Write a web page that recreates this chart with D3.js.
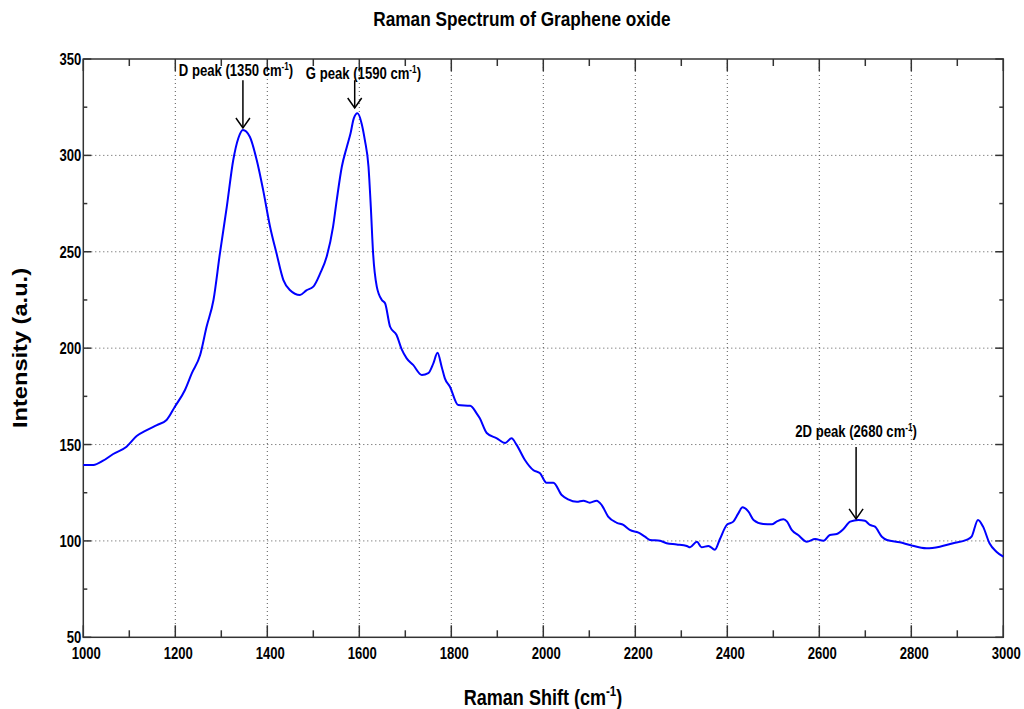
<!DOCTYPE html>
<html>
<head>
<meta charset="utf-8">
<script src="https://cdn.jsdelivr.net/npm/d3@7"></script>
<style>
  body { margin: 0; background: #fff; }
  text { font-family: "Liberation Sans", Arial, sans-serif; font-weight: bold; }
</style>
</head>
<body>
<svg id="chart"></svg>
<script>
// spectrum
var ramanShift = [1000, 1022, 1043, 1065, 1094, 1116, 1138, 1160, 1181, 1199, 1221, 1236, 1254, 1268, 1283, 1297, 1312, 1326, 1337, 1347,
    1362, 1377, 1391, 1406, 1420, 1435, 1449, 1471, 1485, 1500, 1515, 1529, 1543, 1551, 1562, 1573, 1581, 1588, 1596, 1605,
    1612, 1620, 1625, 1630, 1638, 1649, 1656, 1667, 1681, 1692, 1703, 1717, 1736, 1750, 1761, 1770, 1779, 1786, 1797, 1815,
    1841, 1855, 1862, 1877, 1899, 1917, 1931, 1942, 1960, 1978, 1993, 2007, 2022, 2040, 2054, 2073, 2087, 2101, 2116, 2127,
    2141, 2160, 2174, 2188, 2207, 2221, 2232, 2254, 2268, 2290, 2312, 2319, 2334, 2344, 2359, 2373, 2384, 2399, 2413, 2424,
    2433, 2446, 2457, 2478, 2497, 2507, 2522, 2530, 2540, 2554, 2573, 2591, 2609, 2623, 2638, 2652, 2667, 2685, 2699, 2710,
    2721, 2736, 2747, 2775, 2797, 2833, 2862, 2891, 2920, 2931, 2945, 2956, 2970, 2985, 3000]
var intensity = [139.4, 139.4, 141.6, 145.1, 148.9, 154.4, 157.5, 160.1, 162.7, 169.6, 178.3, 187, 196.4, 211.1, 225, 249.2, 273.4, 297.6, 308.9, 313.2,
    309.7, 297.6, 282, 263, 249.2, 235.3, 230.2, 227.6, 230, 231.9, 238.8, 247.4, 263, 276.9, 294.1, 304.5, 311.5, 319.2, 321.8, 316.6,
    308, 294.1, 273.4, 249.2, 231.9, 225, 223.3, 211.1, 206.8, 199.5, 194.7, 191.3, 186.1, 187, 192.1, 197.6, 190.4, 184.3, 180, 170.5,
    170.1, 166.2, 163.6, 156, 153.2, 150.8, 153.2, 149.8, 142, 136.8, 135.1, 130.2, 130.2, 123.8, 121.6, 120.3, 120.9, 119.8, 120.9, 118.6,
    112.6, 109.4, 108.3, 105.7, 104.3, 102.2, 100.5, 100.1, 98.8, 98.2, 97.4, 96.7, 99.6, 96.7, 97.4, 95.4, 101, 108.3, 110, 114.3,
    117.4, 115.2, 110.9, 108.8, 108.6, 110, 111.2, 110, 105.7, 103.1, 99.6, 101, 100.1, 103.1, 103.6, 106, 110, 110.9, 110.5, 108.3,
    107.4, 102.2, 100.5, 99.3, 97.9, 96.2, 97, 98.8, 100.5, 102.2, 110.9, 107.4, 98.8, 94.4, 91.8]

var xTicks = [1000, 1200, 1400, 1600, 1800, 2000, 2200, 2400, 2600, 2800, 3000]
var yTicks = [50, 100, 150, 200, 250, 300, 350]

// peak annotations
var peakNames = ["D peak (1350 cm", "G peak (1590 cm", "2D peak (2680 cm"]
var peakShift = [1347, 1590, 2680]      // arrow position
var labelShift = [1332, 1609, 2680]     // label centre
var labelAt = [341.2, 339.6, 153.9]     // label baseline (intensity)
var arrowFrom = [339, 339, 148.7]
var arrowTo = [314.2, 324.6, 111.4]

var width = 1024, height = 709
var plot = {left: 83.3, right: 1003.3, top: 59, bottom: 637.3}

var svg = d3.select("#chart").attr("width", width).attr("height", height)

var x = d3.scaleLinear().domain([1000, 3000]).range([plot.left, plot.right])
var y = d3.scaleLinear().domain([50, 350]).range([plot.bottom, plot.top])

// squeezed text to look like arial narrow
function narrowText(px, py, size, anchor, sq) {
    return svg.append("text")
        .attr("transform", `translate(${px},${py}) scale(${sq || 0.82},1)`)
        .attr("font-size", size)
        .attr("text-anchor", anchor)
}

// grid
var grid = svg.append("g").attr("stroke", "#555").attr("stroke-width", 1).attr("stroke-dasharray", "1,3")
grid.selectAll(".gx").data(xTicks.slice(1, -1)).enter().append("line")
    .attr("x1", d => x(d)).attr("x2", d => x(d)).attr("y1", plot.top).attr("y2", plot.bottom)
grid.selectAll(".gy").data(yTicks.slice(1, -1)).enter().append("line")
    .attr("y1", d => y(d)).attr("y2", d => y(d)).attr("x1", plot.left).attr("x2", plot.right)

// axes, inward ticks on all four sides
var minorX = d3.range(1100, 3000, 200)
var minorY = d3.range(75, 350, 50)
var ax = svg.append("g").attr("stroke", "#333").attr("stroke-width", 1.5)
function tickX(vals, len) {
    vals.forEach(v => {
        ax.append("line").attr("x1", x(v)).attr("x2", x(v)).attr("y1", plot.bottom).attr("y2", plot.bottom - len)
        ax.append("line").attr("x1", x(v)).attr("x2", x(v)).attr("y1", plot.top).attr("y2", plot.top + len)
    })
}
function tickY(vals, len) {
    vals.forEach(v => {
        ax.append("line").attr("y1", y(v)).attr("y2", y(v)).attr("x1", plot.left).attr("x2", plot.left + len)
        ax.append("line").attr("y1", y(v)).attr("y2", y(v)).attr("x1", plot.right).attr("x2", plot.right - len)
    })
}
tickX(xTicks, 12)
tickX(minorX, 7)
tickY(yTicks, 8)
tickY(minorY, 4)
ax.append("rect").attr("x", plot.left).attr("y", plot.top)
  .attr("width", plot.right - plot.left).attr("height", plot.bottom - plot.top)
  .attr("fill", "none")

// tick labels
xTicks.forEach(d => narrowText(x(d) + 3, plot.bottom + 22, 17, "middle", 0.77).text(d))
yTicks.forEach(d => narrowText(plot.left - 2, y(d) + 6, 17, "end", 0.77).text(d))

// spectrum
var points = ramanShift.map((v, i) => [v, intensity[i]])
var line = d3.line().x(d => x(d[0])).y(d => y(d[1])).curve(d3.curveMonotoneX)
svg.append("path").datum(points)
   .attr("d", line)
   .attr("fill", "none")
   .attr("stroke", "#0000ff")
   .attr("stroke-width", 2)
   .attr("stroke-linejoin", "round")

// arrows + labels
peakNames.forEach((name, i) => {
    var px = x(peakShift[i]), y0 = y(arrowFrom[i]), y1 = y(arrowTo[i])
    svg.append("line").attr("x1", px).attr("x2", px).attr("y1", y0).attr("y2", y1)
       .attr("stroke", "#000").attr("stroke-width", 1.5)
    svg.append("path").attr("d", `M${px - 7},${y1 - 10}L${px},${y1}L${px + 7},${y1 - 10}`)
       .attr("fill", "none").attr("stroke", "#000").attr("stroke-width", 1.5)
    var t = narrowText(x(labelShift[i]), y(labelAt[i]), 16, "middle")
    t.append("tspan").text(name)
    t.append("tspan").attr("dy", -6).attr("font-size", 10).text("-1")
    t.append("tspan").attr("dy", 6).text(")")
})

// titles
narrowText(522, 26, 21, "middle").text("Raman Spectrum of Graphene oxide")
var xl = narrowText(543, 705, 22, "middle")
xl.append("tspan").text("Raman Shift (cm")
xl.append("tspan").attr("dy", -9).attr("font-size", 14).text("-1")
xl.append("tspan").attr("dy", 9).text(")")
svg.append("text").attr("font-size", 20).attr("text-anchor", "middle")
   .attr("textLength", 160).attr("lengthAdjust", "spacingAndGlyphs")
   .attr("transform", "translate(27,348) rotate(-90)").text("Intensity (a.u.)")
</script>
</body>
</html>
